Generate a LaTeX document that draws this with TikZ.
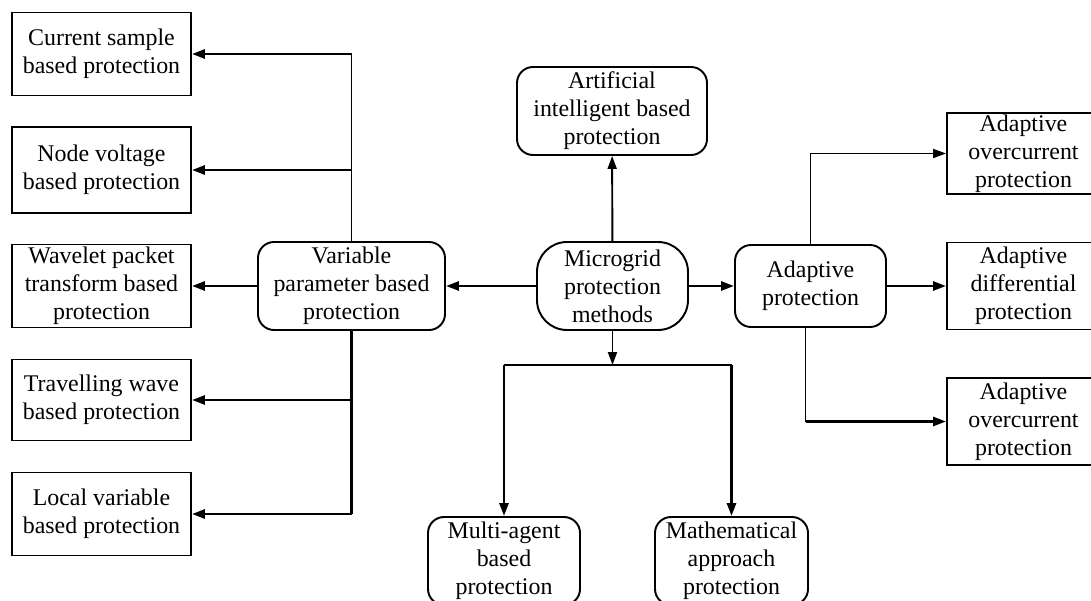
\documentclass[tikz,border=0pt]{standalone}
\usepackage{fontspec}
\setmainfont{Liberation Serif}
\usetikzlibrary{arrows.meta}

\begin{document}
\begin{tikzpicture}[
    box/.style={draw, line width=1.1pt, align=center, inner sep=1pt,
        minimum width=3.58cm, minimum height=1.66cm,
        font=\fontsize{13.6}{16}\selectfont},
    rbox/.style={box, rounded corners=0.32cm},
    link/.style={line width=1.6pt, -{Triangle[length=2.6mm,width=1.8mm]}},
    thinlink/.style={line width=1.1pt, -{Triangle[length=2.6mm,width=1.8mm]}},
    trunk/.style={line width=1.0pt}
]
\useasboundingbox (0,0) rectangle (21.82,12);

% centre and first level
\node[box, minimum width=3.02cm, minimum height=1.76cm, rounded corners=0.6cm] (micro) at (12.25,6.28) {Microgrid\\protection\\methods};
\node[rbox, minimum width=3.74cm, minimum height=1.76cm] (var) at (7.03,6.28) {Variable\\parameter based\\protection};
\node[rbox, minimum width=3.8cm, minimum height=1.76cm] (ai) at (12.24,9.78) {Artificial\\intelligent based\\protection};
\node[rbox, minimum width=3.02cm, minimum height=1.64cm] (adapt) at (16.21,6.28) {Adaptive\\protection};
\node[rbox, minimum width=3.04cm, minimum height=1.76cm] (agent) at (10.08,0.78) {Multi-agent\\based\\protection};
\node[rbox, minimum width=3.06cm, minimum height=1.76cm] (math) at (14.63,0.78) {Mathematical\\approach\\protection};

% variable parameter branch
\node[box] (cur) at (2.03,10.92) {Current sample\\based protection};
\node[box, minimum height=1.72cm] (node) at (2.03,8.6) {Node voltage\\based protection};
\node[box] (wave) at (2.03,6.28) {Wavelet packet\\transform based\\protection};
\node[box, minimum height=1.62cm] (trav) at (2.03,4.0) {Travelling wave\\based protection};
\node[box] (loc) at (2.03,1.72) {Local variable\\based protection};

% adaptive branch
\node[box, minimum width=3.06cm, minimum height=1.62cm] (ocA) at (20.47,8.93) {Adaptive\\overcurrent\\protection};
\node[box, minimum width=3.06cm, minimum height=1.74cm] (diff) at (20.47,6.28) {Adaptive\\differential\\protection};
\node[box, minimum width=3.06cm, minimum height=1.74cm] (ocB) at (20.47,3.57) {Adaptive\\overcurrent\\protection};

\coordinate (split) at (12.25,4.7);

\draw[link] (micro) -- (var);
\draw[link] (micro) -- (adapt);
\draw[thinlink] (micro) -- (ai);
\draw[thinlink] (micro) -- (split);
\draw[trunk] (agent.north |- split) -- (math.north |- split);
\draw[link] (agent.north |- split) -- (agent);
\draw[link] (math.north |- split) -- (math);

\draw[trunk] (var.north) -- (var.north |- cur);
\draw[link] (var.north |- cur) -- (cur);
\draw[link] (var.north |- node) -- (node);
\draw[link] (var) -- (wave);
\draw[line width=1.6pt] (var.south) -- (var.south |- loc);
\draw[link] (var.south |- trav) -- (trav);
\draw[link] (var.south |- loc) -- (loc);

\draw[trunk] (adapt.north) -- (adapt.north |- ocA);
\draw[thinlink] (adapt.north |- ocA) -- (ocA);
\draw[link] (adapt) -- (diff);
\draw[trunk] ([xshift=-1mm]adapt.south) -- ([xshift=-1mm]adapt.south |- ocB);
\draw[link] ([xshift=-1mm]adapt.south |- ocB) -- (ocB);
\end{tikzpicture}
\end{document}
